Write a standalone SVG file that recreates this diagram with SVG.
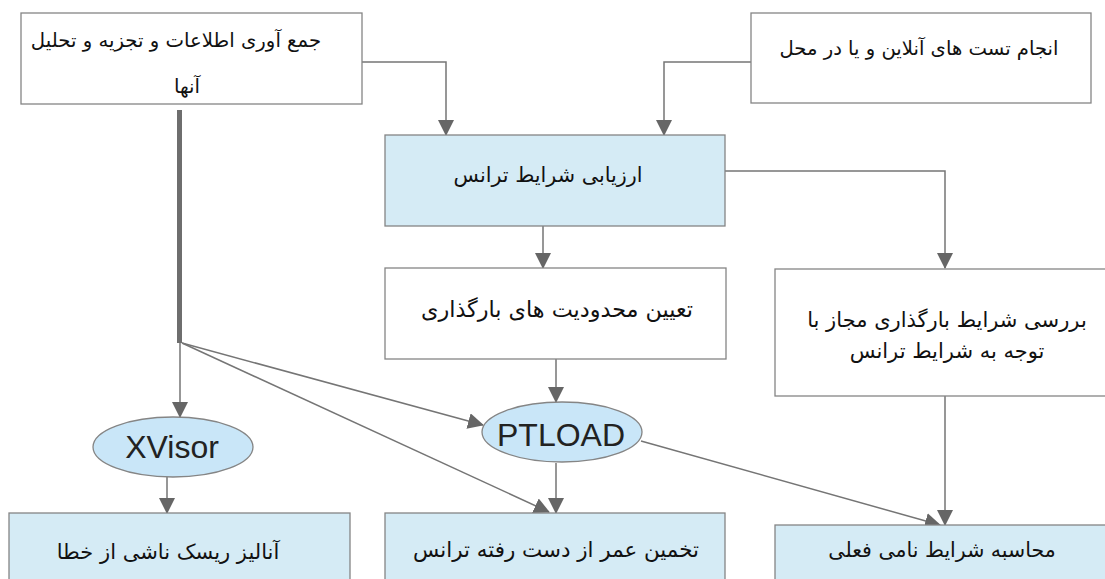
<svg xmlns="http://www.w3.org/2000/svg" width="1105" height="579" viewBox="0 0 1105 579">
  <style>
    .box { fill: #ffffff; stroke: #858585; stroke-width: 1.3; }
    .box.blue { fill: #d5ebf5; }
    .oval { fill: #c9e6f8; stroke: #858585; stroke-width: 1.3; }
    .fa { font-family: "DejaVu Sans", "Noto Sans", sans-serif; font-size: 21px; fill: #111; text-anchor: middle; direction: rtl; }
    .en { font-family: "Liberation Sans", Arial, sans-serif; font-size: 32px; fill: #222; text-anchor: middle; }
    .wire { fill: none; stroke: #757575; stroke-width: 1.5; }
    .trunk { fill: none; stroke: #6e6e6e; stroke-width: 5; }
  </style>
  <defs>
    <marker id="arrow" viewBox="0 0 16 16" refX="15" refY="8" markerWidth="16" markerHeight="16" markerUnits="userSpaceOnUse" orient="auto">
      <path d="M0,0 L16,8 L0,16 Z" fill="#666666"/>
    </marker>
  </defs>

  <!-- connectors -->
  <g id="connectors">
    <polyline class="wire" points="362,62 446,62 446,135" marker-end="url(#arrow)"/>
    <polyline class="wire" points="751,62 664,62 664,135" marker-end="url(#arrow)"/>
    <polyline class="wire" points="725,171 945,171 945,268" marker-end="url(#arrow)"/>
    <line class="wire" x1="543" y1="226" x2="543" y2="268" marker-end="url(#arrow)"/>
    <line class="trunk" x1="179.5" y1="110" x2="179.5" y2="343"/>
    <line class="wire" x1="180" y1="343" x2="180" y2="417" marker-end="url(#arrow)"/>
    <line class="wire" x1="182" y1="343" x2="483" y2="425" marker-end="url(#arrow)"/>
    <line class="wire" x1="182" y1="343" x2="549" y2="512" marker-end="url(#arrow)"/>
    <line class="wire" x1="556" y1="359" x2="556" y2="402" marker-end="url(#arrow)"/>
    <line class="wire" x1="167" y1="477" x2="167" y2="513" marker-end="url(#arrow)"/>
    <line class="wire" x1="556" y1="463" x2="556" y2="513" marker-end="url(#arrow)"/>
    <line class="wire" x1="641" y1="441" x2="940" y2="525" marker-end="url(#arrow)"/>
    <line class="wire" x1="945" y1="396" x2="945" y2="525" marker-end="url(#arrow)"/>
  </g>

  <!-- nodes -->
  <g id="gather-data">
    <rect class="box" x="21" y="13" width="341" height="91"/>
    <text class="fa" x="176" y="47" style="font-size:19.7px">جمع آوری اطلاعات و تجزیه و تحلیل</text>
    <text class="fa" x="187" y="93" style="font-size:19.7px">آنها</text>
  </g>
  <g id="field-tests">
    <rect class="box" x="751" y="13" width="340" height="90"/>
    <text class="fa" x="919" y="55" style="font-size:19.6px">انجام تست های آنلاین و یا در محل</text>
  </g>
  <g id="assess-transformer">
    <rect class="box blue" x="385" y="135" width="340" height="91"/>
    <text class="fa" x="548" y="182" style="font-size:20.7px">ارزیابی شرایط ترانس</text>
  </g>
  <g id="loading-limits">
    <rect class="box" x="385" y="268" width="341" height="91"/>
    <text class="fa" x="557" y="317" style="font-size:22.3px">تعیین محدودیت های بارگذاری</text>
  </g>
  <g id="allowed-loading">
    <rect class="box" x="775" y="269" width="345" height="127"/>
    <text class="fa" x="947" y="327">بررسی شرایط بارگذاری مجاز با</text>
    <text class="fa" x="947" y="358">توجه به شرایط ترانس</text>
  </g>
  <g id="xvisor">
    <ellipse class="oval" cx="173" cy="447" rx="80" ry="30"/>
    <text class="en" x="172" y="458">XVisor</text>
  </g>
  <g id="ptload">
    <ellipse class="oval" cx="562" cy="432" rx="80" ry="30"/>
    <text class="en" x="561" y="446">PTLOAD</text>
  </g>
  <g id="risk-analysis">
    <rect class="box blue" x="9" y="513" width="341" height="80"/>
    <text class="fa" x="168" y="559">آنالیز ریسک ناشی از خطا</text>
  </g>
  <g id="lost-life">
    <rect class="box blue" x="385" y="513" width="340" height="80"/>
    <text class="fa" x="556" y="557" style="font-size:21.4px">تخمین عمر از دست رفته ترانس</text>
  </g>
  <g id="nominal-conditions">
    <rect class="box blue" x="775" y="525" width="345" height="70"/>
    <text class="fa" x="942" y="557" style="font-size:20.5px">محاسبه شرایط نامی فعلی</text>
  </g>
</svg>
